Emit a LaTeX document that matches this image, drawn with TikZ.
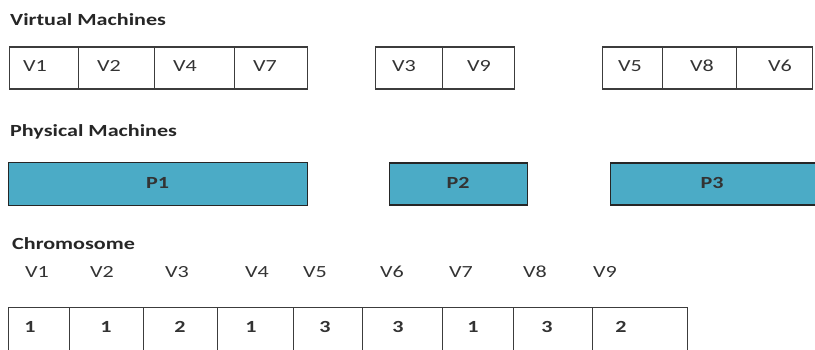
\documentclass[tikz,border=0pt]{standalone}
\usepackage{fontspec}
\setmainfont{Carlito}
\usepackage{graphicx}
\newcommand{\wtext}[1]{\scalebox{1.3}[1]{#1}}
\definecolor{pmfill}{HTML}{4BABC6}
\definecolor{ink}{HTML}{333333}
\definecolor{edge}{HTML}{3C3C3C}
\tikzset{
  cell/.style={draw=edge, line width=1.3pt, rectangle, inner sep=0pt, anchor=north west},
  pm/.style={cell, fill=pmfill, draw=black!85},
  lbl/.style={anchor=base west, inner sep=0pt, text=ink, font=\fontsize{17}{20}\selectfont},
  digit/.style={anchor=base, inner sep=0pt, text=ink, font=\fontsize{17}{20}\selectfont\bfseries},
  plbl/.style={anchor=center, inner sep=0pt, text=black!80, font=\fontsize{17}{20}\selectfont\bfseries},
  title/.style={anchor=base west, inner sep=0pt, text=black!85, font=\fontsize{17}{20}\selectfont\bfseries}
}
\begin{document}
\begin{tikzpicture}[x=1pt,y=-1pt]
\clip (0,0) rectangle (815,350);
\fill[white] (0,0) rectangle (815,350);

% Titles
\node[title] (tvm) at (10,26) {\wtext{Virtual Machines}};
\node[title] (tpm) at (10,137) {\wtext{Physical Machines}};
\node[title] (tch) at (12,250) {\wtext{Chromosome}};

% Virtual machine groups
\node[cell, minimum width=69pt, minimum height=42pt] (a1) at (9,46.5) {};
\node[cell, minimum width=76pt, minimum height=42pt] (a2) at (78,46.5) {};
\node[cell, minimum width=80pt, minimum height=42pt] (a3) at (154,46.5) {};
\node[cell, minimum width=73pt, minimum height=42pt] (a4) at (234,46.5) {};
\node[cell, minimum width=67pt, minimum height=42pt] (b1) at (375,46.5) {};
\node[cell, minimum width=72pt, minimum height=42pt] (b2) at (442,46.5) {};
\node[cell, minimum width=60pt, minimum height=42pt] (c1) at (602,46.5) {};
\node[cell, minimum width=74pt, minimum height=42pt] (c2) at (662,46.5) {};
\node[cell, minimum width=76pt, minimum height=42pt] (c3) at (736,46.5) {};

\node[lbl] (va1) at (23,72) {\wtext{V1}};
\node[lbl] (va2) at (97,72) {\wtext{V2}};
\node[lbl] (va3) at (173,72) {\wtext{V4}};
\node[lbl] (va4) at (253,72) {\wtext{V7}};
\node[lbl] (vb1) at (392,72) {\wtext{V3}};
\node[lbl] (vb2) at (467,72) {\wtext{V9}};
\node[lbl] (vc1) at (618,72) {\wtext{V5}};
\node[lbl] (vc2) at (690,72) {\wtext{V8}};
\node[lbl] (vc3) at (768,72) {\wtext{V6}};

% Physical machines
\node[pm, minimum width=299pt, minimum height=43pt] (p1) at (8,162) {};
\node[pm, minimum width=138pt, minimum height=42pt] (p2) at (389,162.5) {};
\node[pm, minimum width=210pt, minimum height=42pt] (p3) at (610,162.5) {};
\node[plbl] (lp1) at (157.5,183) {\wtext{P1}};
\node[plbl] (lp2) at (458,183) {\wtext{P2}};
\node[plbl] (lp3) at (712,183) {\wtext{P3}};

% Chromosome
\foreach \n/\xl/\w in {1/8/61, 2/69/74, 3/143/74, 4/217/76, 5/293/69, 6/362/80, 7/442/71, 8/513/79, 9/592/95}{
  \node[cell, minimum width=\w pt, minimum height=60pt] (g\n) at (\xl,307) {};
}
\foreach \n/\xl in {1/25, 2/90, 3/165, 4/245, 5/303, 6/380, 7/449, 8/523, 9/593}{
  \node[lbl] (gv\n) at (\xl,278) {\wtext{V\n}};
}
\foreach \n/\xc/\d in {1/30/1, 2/106/1, 3/180/2, 4/251/1, 5/325/3, 6/398/3, 7/473/1, 8/547/3, 9/621/2}{
  \node[digit] (gd\n) at (\xc,332) {\wtext{\d}};
}
\end{tikzpicture}
\end{document}
